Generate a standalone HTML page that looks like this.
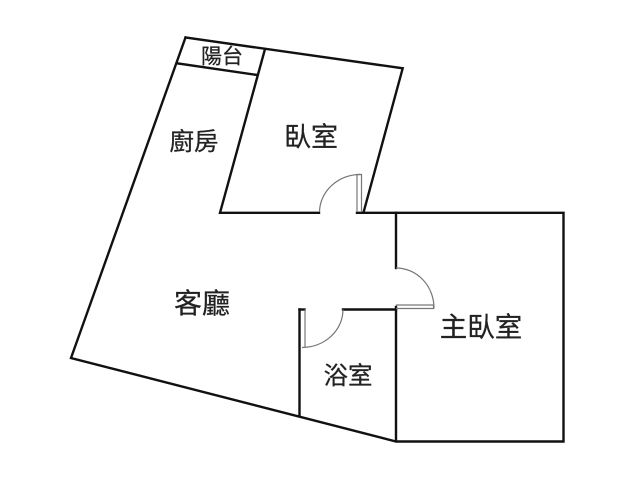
<!DOCTYPE html>
<html>
<head>
<meta charset="utf-8">
<style>
html,body{margin:0;padding:0;background:#fff;}
svg{display:block;}
text{font-family:"Liberation Sans","Noto Sans CJK TC",sans-serif;fill:#222;stroke:#222;stroke-width:0.25;text-anchor:middle;}
</style>
</head>
<body>
<svg width="640" height="480" viewBox="0 0 640 480" xmlns="http://www.w3.org/2000/svg">
<rect width="640" height="480" fill="#fff"/>
<g fill="none" stroke="#111" stroke-width="2.4" stroke-linecap="square" stroke-linejoin="miter">
<path d="M185.5 37.5 L402.7 68.3 L363.5 212.5"/>
<path d="M185.5 37.5 L71 358 L396 441.5 L563.5 441.5 L563.5 212.8 L357 212.8"/>
<path d="M177.3 63.3 L257.3 75"/>
<path d="M265 49 L220 212.8 L319 212.8"/>
<path d="M396 212.8 L396 268"/>
<path d="M396 307 L396 441"/>
<path d="M343 309.5 L396 309.5"/>
<path d="M299.5 309.5 L299.5 416"/>
<path d="M299.5 309.5 L304.5 309.5"/>
</g>
<g fill="none" stroke="#777" stroke-width="1.2">
<path d="M319.5 212 A41 38 0 0 1 360.5 174.5"/>
<path d="M357 212 L357 174.5 L361.5 174.5 L361.5 212"/>
<path d="M396 268 A38 40 0 0 1 434 308.5"/>
<path d="M396 305 L433.5 305 L433.5 308.5 L396 308.5"/>
<path d="M343 309.5 A41 38 0 0 1 302 347.5"/>
<path d="M305 309.5 L305 347.5"/>
</g>
<text x="222" y="63.5" font-size="21">陽台</text>
<text x="194" y="150" font-size="24.5">廚房</text>
<text x="311" y="146.5" font-size="27">臥室</text>
<text x="202" y="313" font-size="28">客廳</text>
<text x="348" y="384" font-size="24.5">浴室</text>
<text x="481" y="336.5" font-size="27.5">主臥室</text>
</svg>
</body>
</html>
